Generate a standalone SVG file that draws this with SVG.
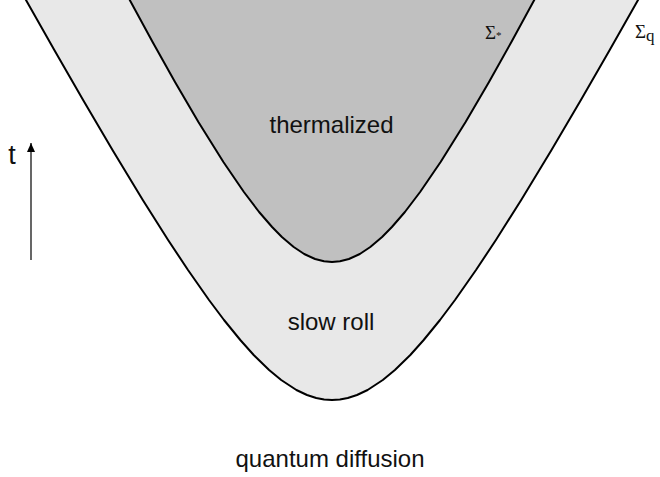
<svg xmlns="http://www.w3.org/2000/svg" width="660" height="477" viewBox="0 0 660 477">
  <defs>
    <marker id="arrowhead" markerWidth="9" markerHeight="8" refX="9" refY="4" orient="auto" markerUnits="userSpaceOnUse" viewBox="0 0 9 8">
      <path d="M0,0 L9,4 L0,8 Z" fill="#000"/>
    </marker>
  </defs>
  <style>
    .region { stroke: #000; stroke-width: 2; stroke-linejoin: round; }
    .lbl { font-family: "Liberation Sans", Arial, sans-serif; font-size: 24px; fill: #111; text-anchor: middle; }
    .sym { font-family: "Liberation Serif", "Times New Roman", serif; fill: #111; }
  </style>
  <rect width="660" height="477" fill="#ffffff"/>

  <g id="slow-roll">
    <path class="region" fill="#e8e8e8" d="M20.3,-10 L54.3,50 L83.1,100 L112.5,150 L142.8,200 L168.1,240 L188,270 L209,300 L224,320 L240.3,340 L253.7,355 L269.1,370 L281.2,380 L296.4,390 L307,395 L316.2,398 L324.1,399.5 L332,400 L339.9,399.5 L347.8,398 L357,395 L367.6,390 L382.8,380 L394.9,370 L410.3,355 L423.7,340 L440,320 L455,300 L476,270 L495.9,240 L521.2,200 L551.5,150 L580.9,100 L609.7,50 L643.7,-10 Z"/>
    <text class="lbl" x="331" y="330">slow roll</text>
  </g>

  <g id="thermalized">
    <path class="region" fill="#c0c0c0" d="M124.3,-10 L152.6,42 L175,82 L198.4,122 L223.4,162 L243.9,192 L259.1,212 L272.1,227 L281.9,237 L293.7,247 L304.2,254 L315.1,259 L324,261.3 L332,262 L340,261.3 L348.9,259 L359.8,254 L370.3,247 L382.1,237 L391.9,227 L404.9,212 L420.1,192 L440.6,162 L465.6,122 L489,82 L511.4,42 L539.7,-10 Z"/>
    <text class="lbl" x="331.5" y="133">thermalized</text>
  </g>

  <g id="quantum-diffusion">
    <text class="lbl" x="330" y="467">quantum diffusion</text>
  </g>

  <g id="sigma-star">
    <text class="sym" x="485" y="39" font-size="19">Σ<tspan font-size="11" dy="0">*</tspan></text>
  </g>

  <g id="sigma-q">
    <text class="sym" x="635" y="38" font-size="19">Σ<tspan font-size="17" dy="3">q</tspan></text>
  </g>

  <g id="time-axis">
    <text class="lbl" x="12" y="164" style="font-size: 27px">t</text>
  </g>

  <g id="connectors">
    <line x1="31" y1="260" x2="31" y2="143" stroke="#000" stroke-width="1.2" marker-end="url(#arrowhead)"/>
  </g>
</svg>
